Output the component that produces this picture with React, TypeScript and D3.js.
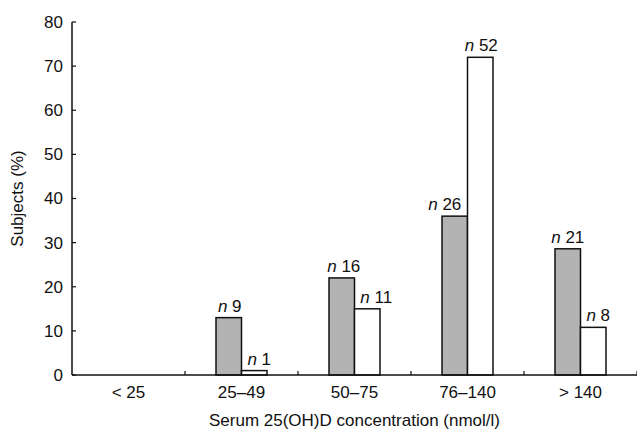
import React from "react";
import * as d3 from "d3";

const categories = ["< 25", "25–49", "50–75", "76–140", "> 140"];
// grey bars and white bars, % of subjects
const greyValues = [null, 13, 22, 36, 28.6];
const whiteValues = [null, 1, 15, 72, 10.8];
const greyN = [null, 9, 16, 26, 21];
const whiteN = [null, 1, 11, 52, 8];
const yTicks = [0, 10, 20, 30, 40, 50, 60, 70, 80];

// small horizontal nudges so the n labels don't collide
const greyNudge = [0, 1, 2, -10, 0];
const whiteNudge = [0, 5, 9, 1, 5];

const W = 637;
const H = 429;
const margin = { top: 22, right: 0, bottom: 54, left: 72 };
const font = "'Liberation Sans', Arial, Helvetica, sans-serif";
const fs = 17;

export default function App() {
  const innerW = W - margin.left - margin.right;
  const innerH = H - margin.top - margin.bottom;

  const x = d3.scaleBand<string>().domain(categories).range([0, innerW]).padding(0);
  const y = d3.scaleLinear().domain([0, 80]).range([innerH, 0]);
  const barW = 25.5;

  const bars: { key: string; x: number; v: number; n: number; fill: string; dx: number }[] = [];
  categories.forEach((c, i) => {
    const cx = (x(c) as number) + x.bandwidth() / 2;
    if (greyValues[i] != null)
      bars.push({ key: c + "g", x: cx - barW, v: greyValues[i] as number, n: greyN[i] as number, fill: "#b3b3b3", dx: greyNudge[i] });
    if (whiteValues[i] != null)
      bars.push({ key: c + "w", x: cx, v: whiteValues[i] as number, n: whiteN[i] as number, fill: "#ffffff", dx: whiteNudge[i] });
  });

  const boundaries = categories.map((c) => (x(c) as number) + x.bandwidth());

  return (
    <div>
      <style>{`body { margin: 0; }`}</style>
      <svg width={W} height={H} style={{ display: "block", background: "#fff" }} fontFamily={font}>
        <g transform={`translate(${margin.left},${margin.top})`}>
          {bars.map((b) => (
            <g key={b.key}>
              <rect
                x={b.x}
                y={y(b.v)}
                width={barW}
                height={innerH - y(b.v)}
                fill={b.fill}
                stroke="#111"
                strokeWidth={1.5}
              />
              <text x={b.x + barW / 2 + b.dx} y={y(b.v) - 6} textAnchor="middle" fontSize={fs} fill="#111">
                <tspan fontStyle="italic">n</tspan> {b.n}
              </text>
            </g>
          ))}
          {/* y axis */}
          <line x1={0} x2={0} y1={0} y2={innerH} stroke="#111" strokeWidth={1.5} />
          {yTicks.map((t) => (
            <g key={t} transform={`translate(0,${y(t)})`}>
              <line x1={0} x2={4} stroke="#111" strokeWidth={1.2} />
              <text x={-9} dy="0.35em" textAnchor="end" fontSize={fs} fill="#111">
                {t}
              </text>
            </g>
          ))}
          {/* x axis */}
          <line x1={0} x2={innerW} y1={innerH} y2={innerH} stroke="#111" strokeWidth={1.5} />
          {boundaries.map((bx, i) => (
            <line key={i} x1={bx} x2={bx} y1={innerH} y2={innerH - 4} stroke="#111" strokeWidth={1.2} />
          ))}
          {categories.map((c) => (
            <text
              key={c}
              x={(x(c) as number) + x.bandwidth() / 2}
              y={innerH + 23}
              textAnchor="middle"
              fontSize={fs}
              fill="#111"
            >
              {c}
            </text>
          ))}
          <text x={innerW / 2} y={innerH + 51} textAnchor="middle" fontSize={fs} fill="#111">
            Serum 25(OH)D concentration (nmol/l)
          </text>
          <text
            transform={`translate(${-49},${innerH / 2}) rotate(-90)`}
            textAnchor="middle"
            fontSize={fs}
            fill="#111"
          >
            Subjects (%)
          </text>
        </g>
      </svg>
    </div>
  );
}
